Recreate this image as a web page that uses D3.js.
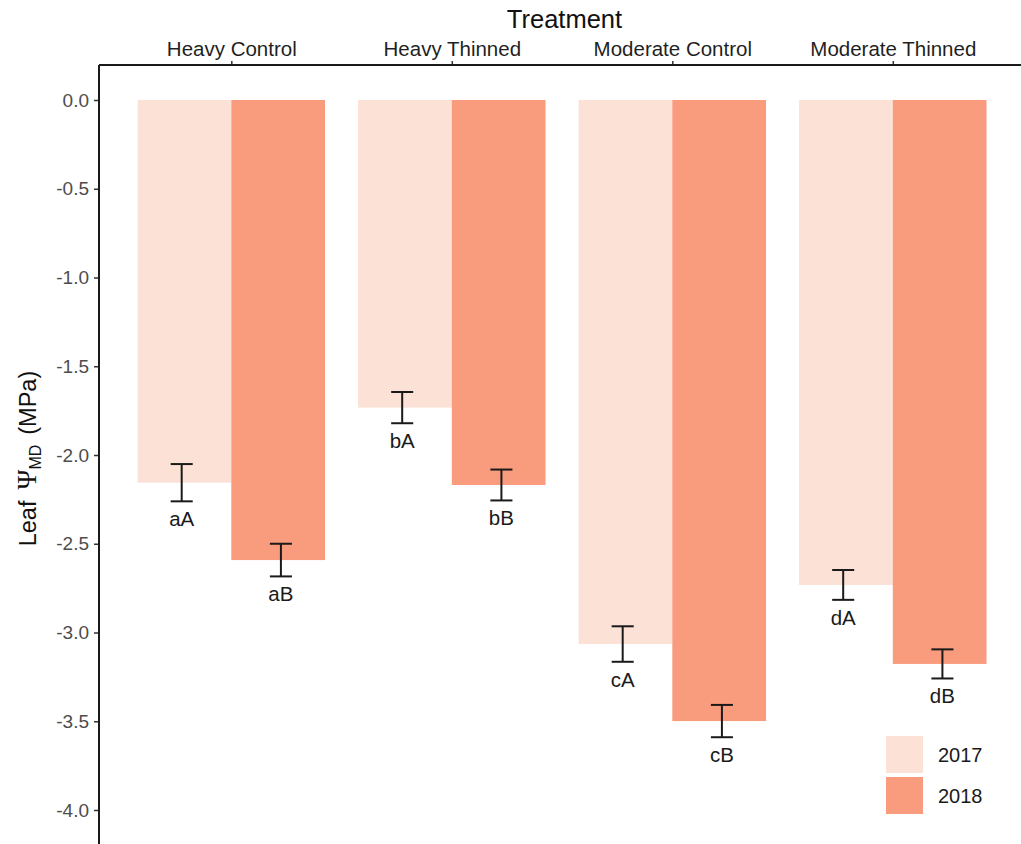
<!DOCTYPE html>
<html>
<head>
<meta charset="utf-8">
<script src="https://cdn.jsdelivr.net/npm/d3@7"></script>
<style>
  html, body { margin: 0; padding: 0; background: #fff; }
  svg { display: block; font-family: "Liberation Sans", Arial, Helvetica, sans-serif; }
</style>
</head>
<body>
<svg id="chart" width="1021" height="844"></svg>
<script>
// Midday leaf water potential by treatment and year
const treatments = ["Heavy Control", "Heavy Thinned", "Moderate Control", "Moderate Thinned"];
const years = ["2017", "2018"];
const mean2017 = [-2.156, -1.733, -3.065, -2.732];
const mean2018 = [-2.592, -2.169, -3.499, -3.177];
const se2017 = [0.105, 0.088, 0.100, 0.084];
const se2018 = [0.092, 0.087, 0.091, 0.082];
const letters2017 = ["aA", "bA", "cA", "dA"];
const letters2018 = ["aB", "bB", "cB", "dB"];
const yTicks = [0, -0.5, -1, -1.5, -2, -2.5, -3, -3.5, -4];
const yearColors = ["#fce1d6", "#f99b7d"];

const rows = [];
treatments.forEach((t, i) => {
  rows.push({ treatment: t, year: "2017", yi: 0, mean: mean2017[i], se: se2017[i], letter: letters2017[i] });
  rows.push({ treatment: t, year: "2018", yi: 1, mean: mean2018[i], se: se2018[i], letter: letters2018[i] });
});

const svg = d3.select("#chart");
const panel = { left: 99, top: 65, right: 1030, bottom: 852 };

const x = d3.scalePoint().domain(treatments).range([99, 1025.1]).padding(0.6);
const step = x.step();
const barW = step * 0.85 / 2;       // bar width per year
const dodgeErr = step * 0.9 / 4;    // error-bar dodge offset
const capW = step * 0.1;

const y = d3.scaleLinear().domain([0, -4]).range([100, 810]);
const color = d3.scaleOrdinal().domain(years).range(yearColors);

// bars hang down from zero
svg.append("g").selectAll("rect").data(rows).join("rect")
  .attr("x", d => x(d.treatment) + (d.yi === 0 ? -barW : 0))
  .attr("y", y(0))
  .attr("width", barW)
  .attr("height", d => y(d.mean) - y(0))
  .attr("fill", d => color(d.year));

// error bars
const eb = svg.append("g").attr("stroke", "#1a1a1a").attr("stroke-width", 2).attr("fill", "none");
rows.forEach(d => {
  const cx = x(d.treatment) + (d.yi === 0 ? -dodgeErr : dodgeErr);
  const y1 = y(d.mean + d.se), y2 = y(d.mean - d.se);
  eb.append("line").attr("x1", cx).attr("x2", cx).attr("y1", y1).attr("y2", y2);
  eb.append("line").attr("x1", cx - capW / 2).attr("x2", cx + capW / 2).attr("y1", y1).attr("y2", y1);
  eb.append("line").attr("x1", cx - capW / 2).attr("x2", cx + capW / 2).attr("y1", y2).attr("y2", y2);
});

// significance letters
svg.append("g").selectAll("text").data(rows).join("text")
  .attr("x", d => x(d.treatment) + (d.yi === 0 ? -dodgeErr : dodgeErr))
  .attr("y", d => y(d.mean - d.se) + 25)
  .attr("text-anchor", "middle")
  .attr("font-size", 20.5)
  .attr("fill", "#1a1a1a")
  .text(d => d.letter);

// left axis (plain hyphen for negatives)
const fmt = v => d3.format(".1f")(v).replace("\u2212", "-");
const yAxis = svg.append("g").attr("transform", `translate(${panel.left},0)`)
  .call(d3.axisLeft(y).tickValues(yTicks).tickFormat(fmt).tickSize(5).tickPadding(5));
yAxis.select(".domain").remove();
yAxis.selectAll(".tick line").attr("stroke", "#333").attr("stroke-width", 1.5);
yAxis.selectAll(".tick text").attr("font-size", 19).attr("fill", "#4d4d4d")
  .attr("font-family", "'Liberation Sans', Arial, sans-serif");
svg.append("line").attr("x1", panel.left).attr("x2", panel.left)
  .attr("y1", panel.top).attr("y2", panel.bottom)
  .attr("stroke", "#1a1a1a").attr("stroke-width", 2);

// top axis
const xAxis = svg.append("g").attr("transform", `translate(0,${panel.top})`)
  .call(d3.axisTop(x).tickSize(4).tickPadding(5));
xAxis.select(".domain").remove();
xAxis.selectAll(".tick line").attr("stroke", "#333").attr("stroke-width", 1.5);
xAxis.selectAll(".tick text").attr("font-size", 20.5).attr("fill", "#1f1f1f")
  .attr("font-family", "'Liberation Sans', Arial, sans-serif");
svg.append("line").attr("x1", panel.left).attr("x2", panel.right)
  .attr("y1", panel.top).attr("y2", panel.top)
  .attr("stroke", "#1a1a1a").attr("stroke-width", 2);

// axis titles
svg.append("text")
  .attr("x", (panel.left + panel.right) / 2).attr("y", 28)
  .attr("text-anchor", "middle").attr("font-size", 25.5).attr("fill", "#111")
  .text("Treatment");

const yt = svg.append("text")
  .attr("transform", `translate(36,${(panel.top + panel.bottom) / 2}) rotate(-90)`)
  .attr("text-anchor", "middle").attr("font-size", 23.5).attr("fill", "#111");
yt.append("tspan").text("Leaf");
yt.append("tspan").attr("dx", 11).attr("font-size", 27)
  .attr("font-family", "'Liberation Serif', 'DejaVu Serif', serif").text("\u03A8");
yt.append("tspan").attr("font-size", 16).attr("dy", 5).text("MD");
yt.append("tspan").attr("dy", -5).attr("dx", 10).text("(MPa)");

// legend
const lg = svg.append("g").attr("transform", "translate(886,736)");
years.forEach((yr, i) => {
  lg.append("rect").attr("x", 0).attr("y", i * 41).attr("width", 37).attr("height", 37)
    .attr("fill", color(yr));
  lg.append("text").attr("x", 52).attr("y", i * 41 + 18.5).attr("dy", "0.35em")
    .attr("font-size", 20).attr("fill", "#1a1a1a").text(yr);
});
</script>
</body>
</html>
